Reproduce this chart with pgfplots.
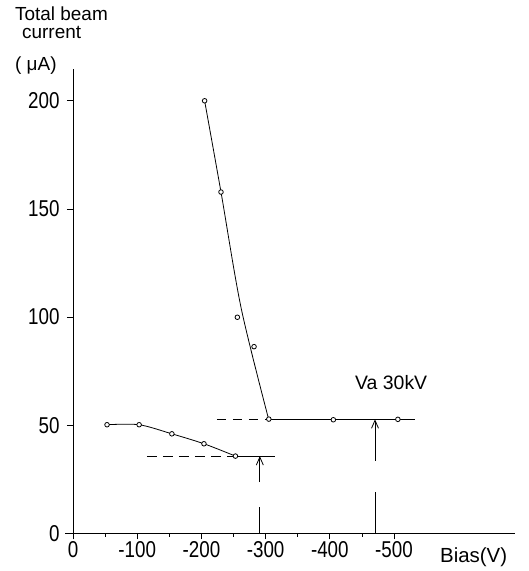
\documentclass[border=0pt]{standalone}
\usepackage{fontspec}
\setmainfont{Liberation Sans}
\newfontfamily\tickfont{Liberation Sans}[FakeStretch=0.82]
\usepackage{pgfplots}
\pgfplotsset{compat=1.18}
\usetikzlibrary{arrows.meta}
\begin{document}
\begin{tikzpicture}[x=1bp,y=1bp]
\begin{axis}[
  at={(0,0)}, anchor=south west,
  scale only axis, width=441.7bp, height=464.3bp,
  xmin=0, xmax=688, ymin=0, ymax=214.7,
  axis x line=bottom, axis y line=left,
  axis line style={-, line width=0.8bp},
  xtick={0,100,...,500},
  xticklabels={0,-100,-200,-300,-400,-500},
  minor xtick={50,150,...,450},
  ytick={0,50,...,200},
  tick align=outside,
  major tick length=6bp, minor tick length=3.5bp,
  tick style={line width=0.8bp, black},
  every tick label/.append style={font=\tickfont\fontsize{23}{27}\selectfont},
  yticklabel style={xshift=-4bp},
  xticklabel style={yshift=1bp},
  /pgf/number format/assume math mode=true,
  clip=false,
]
% lower series
\addplot[line width=0.8bp, smooth, tension=0.5] coordinates {(53,50.2)(103,50.2)(154,46)(204,41.4)(253,35.7)};
\addplot[line width=0.8bp] coordinates {(253,35.7)(315,35.7)};
\addplot[line width=0.8bp, dash pattern=on 10bp off 6bp] coordinates {(115,35.7)(253,35.7)};
\addplot[only marks, mark=*, mark size=2.3bp, mark options={fill=white, draw=black, line width=0.8bp}] coordinates {(53,50.2)(103,50.2)(154,46)(204,41.4)(253,35.7)};
% upper series
\addplot[line width=0.8bp, smooth] coordinates {(205,200)(230.5,157.8)(262,104)(304.5,53)};
\addplot[line width=0.8bp] coordinates {(305,52.7)(532,52.7)};
\addplot[line width=0.8bp, dash pattern=on 9bp off 7bp] coordinates {(224,52.7)(305,52.7)};
\addplot[only marks, mark=*, mark size=2.3bp, mark options={fill=white, draw=black, line width=0.8bp}] coordinates {(205,200)(230.5,157.8)(256,99.9)(282,86.3)(305,52.8)(405.5,52.5)(506,52.7)};
% arrows
\addplot[line width=0.8bp, -{Straight Barb[length=8bp,width=7bp]}] coordinates {(291,23.7)(291,35.7)};
\addplot[line width=0.8bp] coordinates {(291,0)(291,12.2)};
\addplot[line width=0.8bp, -{Straight Barb[length=8bp,width=7bp]}] coordinates {(470.4,33.5)(470.4,52.7)};
\addplot[line width=0.8bp] coordinates {(470.4,0)(470.4,19.2)};
\draw[line width=0.8bp] (axis cs:0,0) -- (axis cs:-12,0);
\draw[line width=0.8bp] (axis cs:0,0) -- (axis cs:0,-2.3);
\end{axis}
\node[anchor=base west, inner sep=0, font=\fontsize{19}{23}\selectfont] at (-58,512.5) {Total beam};
\node[anchor=base west, inner sep=0, font=\fontsize{19}{23}\selectfont] at (-51,494.5) {current};
\node[anchor=base west, inner sep=0, font=\fontsize{19}{23}\selectfont] at (-58,462.6) {( μA)};
\node[anchor=base west, inner sep=0, font=\fontsize{19.5}{23}\selectfont] at (282,143.3) {Va 30kV};
\node[anchor=base west, inner sep=0, font=\fontsize{20.5}{24}\selectfont] at (367,-28.7) {Bias(V)};
\pgfresetboundingbox
\path[use as bounding box] (-73,-37.7) rectangle (456,533.3);
\end{tikzpicture}
\end{document}
